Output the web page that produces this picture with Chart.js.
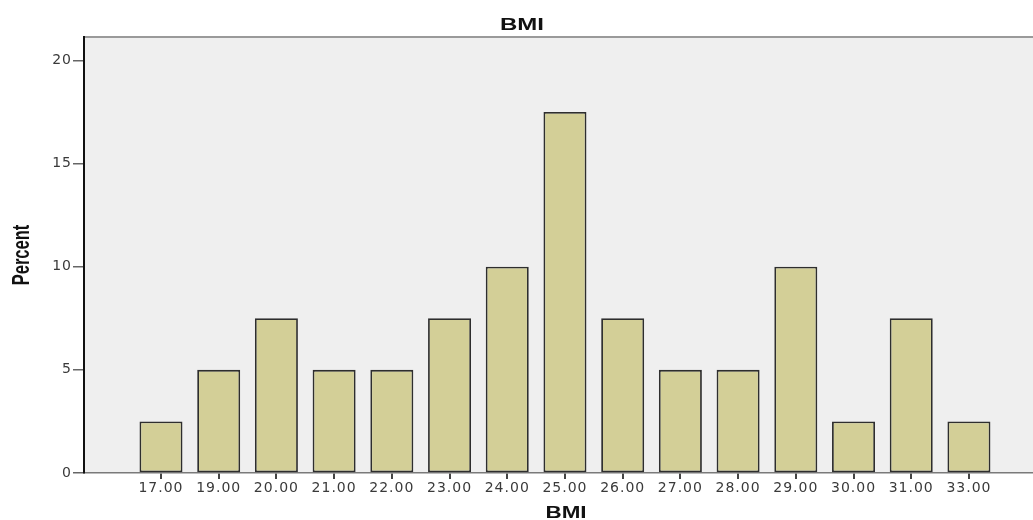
<!DOCTYPE html>
<html>
<head>
<meta charset="utf-8">
<title>BMI</title>
<script src="https://cdn.jsdelivr.net/npm/chart.js@4/dist/chart.umd.min.js"></script>
<style>
  html, body { margin: 0; padding: 0; background: #fff; }
  #wrap { width: 1033px; height: 520px; }
</style>
</head>
<body>
<div id="wrap"><canvas id="grafica" width="1033" height="520"></canvas></div>
<script>
// datos
const bmiLabels = ['17.00', '19.00', '20.00', '21.00', '22.00', '23.00', '24.00', '25.00',
                   '26.00', '27.00', '28.00', '29.00', '30.00', '31.00', '33.00'];
const percentValues = [2.5, 5, 7.5, 5, 5, 7.5, 10, 17.5, 7.5, 5, 5, 10, 2.5, 7.5, 2.5];
const yTicks = [0, 5, 10, 15, 20];

const fontTicks = { family: "'DejaVu Sans', sans-serif", size: 14 };

// fondo gris del area y borde superior, como en SPSS
const fondoPlot = {
  id: 'fondoPlot',
  beforeDraw(chart) {
    const { ctx, chartArea: a } = chart;
    ctx.save();
    ctx.fillStyle = '#efefef';
    ctx.fillRect(a.left, a.top, a.right - a.left, a.bottom - a.top);
    ctx.strokeStyle = '#9a9a9a';
    ctx.lineWidth = 2;
    ctx.beginPath();
    ctx.moveTo(a.left, a.top);
    ctx.lineTo(a.right, a.top);
    ctx.stroke();
    ctx.restore();
    // etiquetas de los ticks un poco espaciadas
    ctx.letterSpacing = '1px';
  }
};

// titulos dibujados a mano (texto estirado como en la imagen)
function textoEstirado(ctx, txt, x, y, sx, font, rot) {
  ctx.save();
  ctx.letterSpacing = '0px';
  ctx.translate(x, y);
  if (rot) ctx.rotate(rot);
  ctx.scale(sx, 1);
  ctx.font = font;
  ctx.fillStyle = '#111';
  ctx.textAlign = 'center';
  ctx.textBaseline = 'alphabetic';
  ctx.fillText(txt, 0, 0);
  ctx.restore();
}

const titulos = {
  id: 'titulos',
  afterDraw(chart) {
    const ctx = chart.ctx;
    const a = chart.chartArea;
    ctx.letterSpacing = '0px';
    textoEstirado(ctx, 'BMI', 522, 30, 1.5, "bold 16px 'Liberation Sans', Arial, sans-serif");
    textoEstirado(ctx, 'BMI', 566, 518, 1.4, "bold 16px 'Liberation Sans', Arial, sans-serif");
    textoEstirado(ctx, 'Percent', 29, (a.top + a.bottom) / 2, 0.72,
      "bold 23px 'Liberation Sans', Arial, sans-serif", -Math.PI / 2);
  }
};

const ctx = document.getElementById('grafica').getContext('2d');
const chart = new Chart(ctx, {
  type: 'bar',
  data: {
    datasets: [{
      label: 'Percent',
      data: bmiLabels.map((l, i) => ({ x: i, y: percentValues[i] })),
      backgroundColor: '#d3cf97',
      borderColor: '#2e2e2e',
      borderWidth: 1.8,
      borderSkipped: false,
      barPercentage: 0.745,
      categoryPercentage: 1
    }]
  },
  options: {
    responsive: false,
    animation: false,
    layout: { padding: { left: 0, right: 0, top: 37, bottom: 0 } },
    plugins: {
      legend: { display: false },
      tooltip: { enabled: false },
      title: { display: false }
    },
    scales: {
      x: {
        type: 'linear',
        offset: false,
        min: -1.334,
        max: 15.11,
        afterBuildTicks(scale) {
          scale.ticks = bmiLabels.map((l, i) => ({ value: i }));
        },
        afterFit(scale) { scale.height = 47; },
        ticks: {
          color: '#3a3a3a',
          font: fontTicks,
          padding: 1,
          maxRotation: 0,
          autoSkip: false,
          callback: (v) => bmiLabels[v]
        },
        grid: { offset: false, drawOnChartArea: false, drawTicks: true, tickLength: 6, color: '#444', lineWidth: 2 },
        border: { display: true, color: '#7a7a7a', width: 1.5 }
      },
      y: {
        min: 0,
        max: 21.13,
        afterBuildTicks(scale) {
          scale.ticks = yTicks.map(v => ({ value: v }));
        },
        afterFit(scale) { scale.width = 84; },
        ticks: {
          color: '#3a3a3a',
          font: fontTicks,
          padding: 1
        },
        grid: { drawOnChartArea: false, drawTicks: true, tickLength: 11, color: '#666', lineWidth: 1.5 },
        border: { display: true, color: '#111', width: 2 }
      }
    }
  },
  plugins: [fondoPlot, titulos]
});
</script>
</body>
</html>
